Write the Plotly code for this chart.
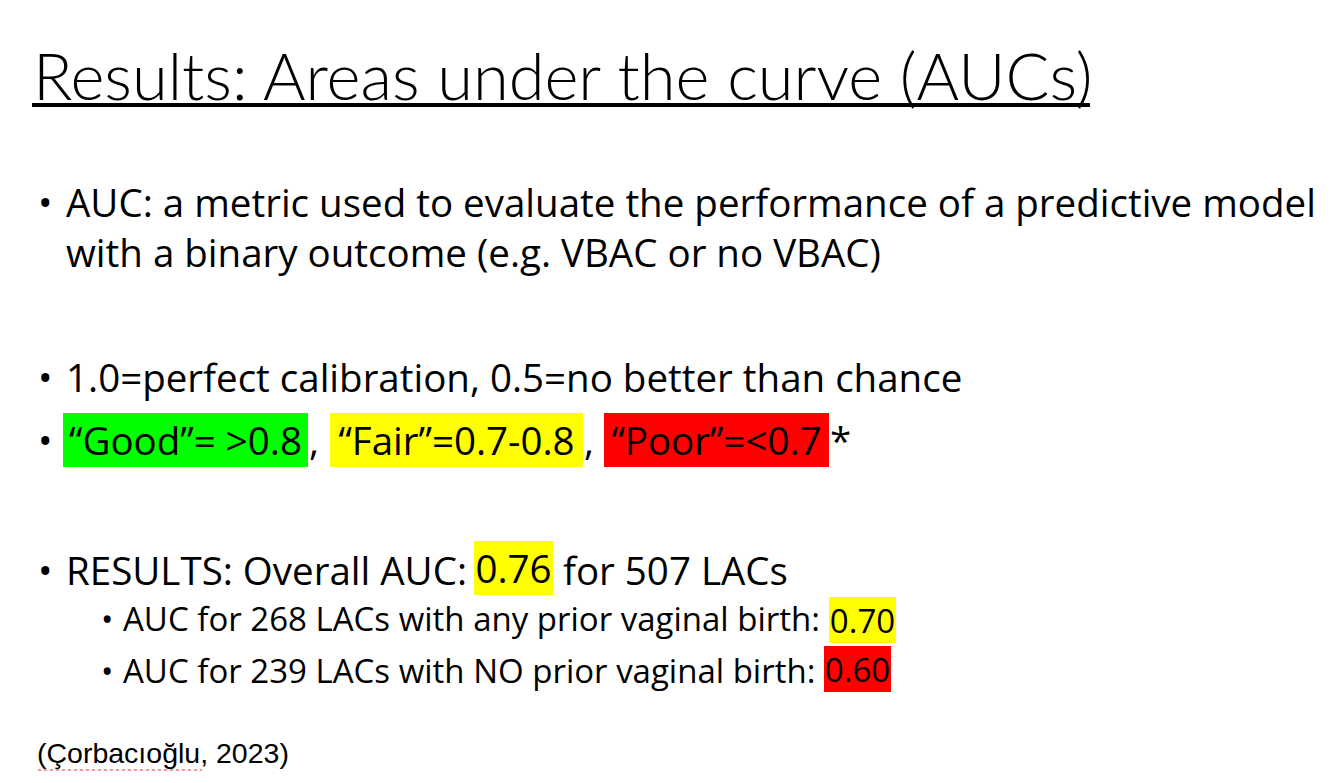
import plotly.graph_objects as go

# slide text
TITLE = "Results: Areas under the curve (AUCs)"
intro_lines = [
    "AUC: a metric used to evaluate the performance of a predictive model",
    "with a binary outcome (e.g. VBAC or no VBAC)",
]
scale_line = "1.0=perfect calibration, 0.5=no better than chance"
rating_labels = ["“Good”= >0.8", "“Fair”=0.7-0.8", "“Poor”=<0.7"]
rating_colors = ["#00ff00", "#ffff00", "#ff0000"]
overall_auc = "0.76"
overall_n = 507
subgroup_n = [268, 239]
subgroup_desc = ["any prior vaginal birth", "NO prior vaginal birth"]
subgroup_auc = ["0.70", "0.60"]
subgroup_colors = ["#ffff00", "#ff0000"]
CITATION = "(Çorbacıoğlu, 2023)"

W, H = 1332, 783
PAGE_PAD = 8  # default body margin of the html page
BODY = "Open Sans"
MAIN_SIZE = 38.5
SUB_SIZE = 33
LINE_SPACING = 1.3  # plotly's multi-line spacing

fig = go.Figure()
annotations = []


def text(x, baseline, s, size, font=BODY, weight=400, k=0.34):
    # baseline is the first line's baseline; extra lines shift the box centre down
    n_lines = s.count("<br>") + 1
    yc = baseline - k * size + (n_lines - 1) * LINE_SPACING * size / 2
    annotations.append(dict(
        x=x, y=yc, text=s, xanchor="left", yanchor="middle", align="left",
        showarrow=False, borderpad=0,
        font=dict(family=font, size=size, color="black", weight=weight),
    ))


def highlight(x0, x1, y0, y1, s, color, size):
    annotations.append(dict(
        x=(x0 + x1) / 2, y=(y0 + y1) / 2, text=s, xanchor="center", yanchor="middle",
        width=x1 - x0, height=y1 - y0, bgcolor=color, borderpad=0, borderwidth=0,
        showarrow=False, align="center", valign="middle",
        font=dict(family=BODY, size=size, color="black"),
    ))


def bullet(x, baseline, size):
    text(x, baseline, "•", size)


# title
text(32, 97, TITLE, 65, font="Lato", weight=300)
fig.add_shape(type="line", x0=32, x1=1090, y0=105, y1=105,
              line=dict(color="black", width=4))

# first bullet (two lines)
bullet(37, 215, MAIN_SIZE)
text(65, 215, "<br>".join(intro_lines), MAIN_SIZE)

# calibration scale
bullet(37, 390, MAIN_SIZE)
text(65, 390, scale_line, MAIN_SIZE)

# ratings with highlight
bullet(37, 453, MAIN_SIZE)
rating_boxes = [(63, 308), (330, 583), (604, 829)]
for (x0, x1), lab, col in zip(rating_boxes, rating_labels, rating_colors):
    highlight(x0, x1, 413, 467, lab, col, MAIN_SIZE)
text(308, 453, ",", MAIN_SIZE)
text(583, 453, ",", MAIN_SIZE)
text(829, 453, "*", MAIN_SIZE)

# overall results
bullet(37, 583, MAIN_SIZE)
text(65, 583, "RESULTS: Overall AUC:", MAIN_SIZE)
highlight(474, 553, 541, 595, overall_auc, "#ffff00", MAIN_SIZE)
text(562, 583, f"for {overall_n} LACs", MAIN_SIZE)

# subgroups
sub_baselines = [630, 682]
sub_boxes = [(829, 896, 597, 643), (824, 891, 646, 692)]
for base, n, desc, auc, col, (x0, x1, y0, y1) in zip(
        sub_baselines, subgroup_n, subgroup_desc, subgroup_auc, subgroup_colors, sub_boxes):
    bullet(100, base, SUB_SIZE)
    text(122, base, f"AUC for {n} LACs with {desc}:", SUB_SIZE)
    highlight(x0, x1, y0, y1, auc, col, SUB_SIZE)

# citation, with the spell-check squiggle under the name
text(36, 763, CITATION, 28.5, font="Liberation Sans", k=0.36)
fig.add_shape(type="line", x0=38, x1=202, y0=770, y1=770,
              line=dict(color="#e03030", width=1, dash="dot"))

fig.update_layout(
    width=W, height=H,
    margin=dict(l=0, r=0, t=0, b=0),
    paper_bgcolor="white", plot_bgcolor="white",
    xaxis=dict(range=[PAGE_PAD, W + PAGE_PAD], visible=False, fixedrange=True),
    yaxis=dict(range=[H + PAGE_PAD, PAGE_PAD], visible=False, fixedrange=True),
    annotations=annotations,
    showlegend=False,
)

fig.write_html("out.html")
